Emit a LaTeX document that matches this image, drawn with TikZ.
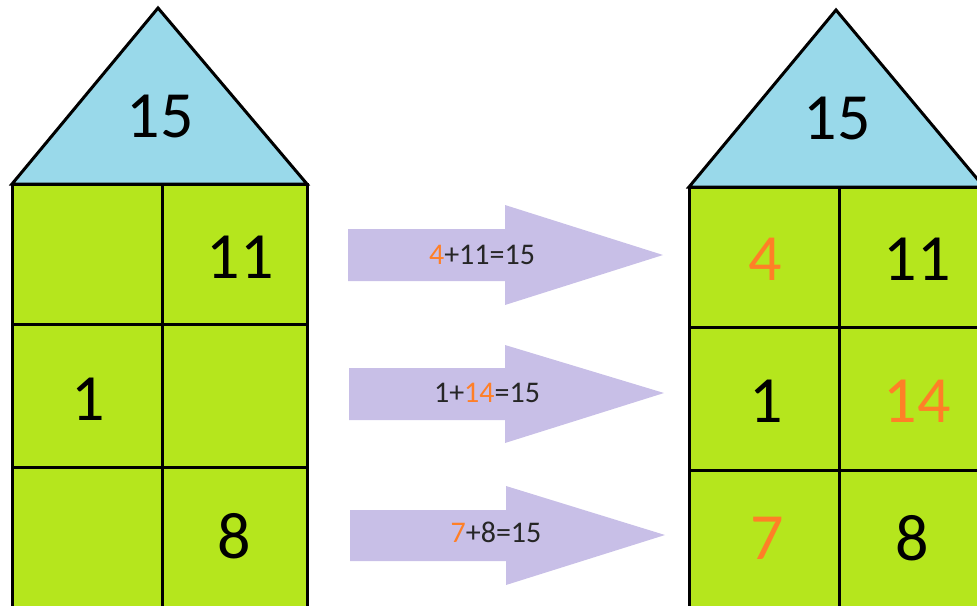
\documentclass[tikz,border=0pt]{standalone}
\usepackage{fontspec}
\setmainfont{Carlito}
\definecolor{roofblue}{HTML}{99D9EA}
\definecolor{wallgreen}{HTML}{B5E61D}
\definecolor{arrowlav}{HTML}{C8BFE7}
\definecolor{numorange}{HTML}{FF7F27}
\definecolor{numdark}{HTML}{262626}
\begin{document}
\begin{tikzpicture}[x=1pt,y=-1pt,
  edge/.style={draw=black,line width=3pt,line join=miter},
  roof/.style={edge,fill=roofblue},
  wall/.style={edge,fill=wallgreen},
  bignum/.style={font=\fontsize{66}{66}\selectfont,inner sep=0pt,text=black},
  eqtext/.style={font=\fontsize{30}{30}\selectfont,inner sep=0pt,text=numdark},
  fatarrow/.style={fill=arrowlav,draw=none},
  hi/.style={text=numorange}]
\useasboundingbox (0,0) rectangle (977,605);
\clip (0,0) rectangle (977,605);
% ---------- left house ----------
\coordinate (LA) at (158,8);
\coordinate (LBL) at (12,184);
\coordinate (LBR) at (307,184);
\fill[wallgreen] (12,184) rectangle (307,620);
\draw[edge] (12,620) -- (12,184) -- (307,184) -- (307,620);
\draw[edge] (162,184) -- (162,620);
\draw[edge] (12,324) -- (307,324);
\draw[edge] (12,467) -- (307,467);
\draw[roof] (LBL) -- (LA) -- (LBR) -- cycle;
\node[bignum] (lroof) at (160,116) {15};
\node[bignum] (l11) at (240,257) {11};
\node[bignum] (l1) at (88,399) {1};
\node[bignum] (l8) at (234,536) {8};
% ---------- right house ----------
\coordinate (RA) at (836,10);
\coordinate (RBL) at (689,187);
\coordinate (RBR) at (984,187);
\fill[wallgreen] (689,187) rectangle (984,620);
\draw[edge] (689,620) -- (689,187) -- (984,187) -- (984,620);
\draw[edge] (839,187) -- (839,620);
\draw[edge] (689,327) -- (984,327);
\draw[edge] (689,470) -- (984,470);
\draw[roof] (RBL) -- (RA) -- (RBR) -- cycle;
\node[bignum] (rroof) at (837,118) {15};
\node[bignum,hi] (r4) at (765,259) {4};
\node[bignum] (r11) at (917,259) {11};
\node[bignum] (r1) at (766,401) {1};
\node[bignum,hi] (r14) at (917,401) {14};
\node[bignum,hi] (r7) at (767,538) {7};
\node[bignum] (r8) at (912,538) {8};
% ---------- arrows ----------
\fill[fatarrow] (348,229) -- (505,229) -- (505,205) -- (663,255) -- (505,305) -- (505,281) -- (348,281) -- cycle;
\fill[fatarrow] (349,368) -- (505,368) -- (505,345) -- (664,393) -- (505,443) -- (505,420) -- (349,420) -- cycle;
\fill[fatarrow] (350,510) -- (506,510) -- (506,486) -- (665,535) -- (506,585) -- (506,561) -- (350,561) -- cycle;
\node[eqtext] (eq1) at (482,255) {\textcolor{numorange}{4}+11=15};
\node[eqtext] (eq2) at (487,393) {1+\textcolor{numorange}{14}=15};
\node[eqtext] (eq3) at (496,532) {\textcolor{numorange}{7}+8=15};
\end{tikzpicture}
\end{document}
